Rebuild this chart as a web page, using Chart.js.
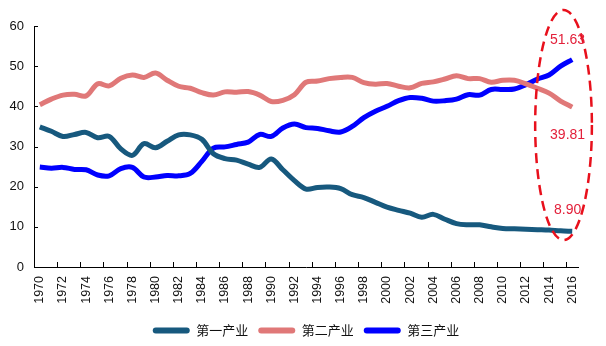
<!DOCTYPE html>
<html>
<head>
<meta charset="utf-8">
<script src="https://cdn.jsdelivr.net/npm/chart.js@4.4.1/dist/chart.umd.min.js"></script>
<style>
  html, body { margin: 0; padding: 0; background: #fff; }
</style>
</head>
<body>
<canvas id="industryChart" width="606" height="346"></canvas>
<script>
const years = [
  '1970', '1971', '1972', '1973', '1974', '1975', '1976', '1977', '1978', '1979',
  '1980', '1981', '1982', '1983', '1984', '1985', '1986', '1987', '1988', '1989',
  '1990', '1991', '1992', '1993', '1994', '1995', '1996', '1997', '1998', '1999',
  '2000', '2001', '2002', '2003', '2004', '2005', '2006', '2007', '2008', '2009',
  '2010', '2011', '2012', '2013', '2014', '2015', '2016'
];

// 第一产业
const primary = [
  34.9, 33.8, 32.5, 33.0, 33.5, 32.2, 32.5, 29.4, 27.8, 30.7,
  29.7, 31.3, 32.9, 32.9, 31.8, 28.2, 27.0, 26.6, 25.6, 24.8,
  26.9, 24.2, 21.5, 19.4, 19.8, 19.9, 19.5, 18.0, 17.3, 16.1,
  14.9, 14.1, 13.4, 12.4, 13.1, 11.9, 10.8, 10.5, 10.5, 10.0,
  9.6, 9.5, 9.4, 9.3, 9.2, 9.0, 8.90
];

// 第二产业
const secondary = [
  40.4, 41.8, 42.8, 43.0, 42.6, 45.6, 45.1, 47.0, 47.8, 47.2,
  48.3, 46.5, 45.0, 44.5, 43.4, 42.8, 43.6, 43.5, 43.7, 42.8,
  41.2, 41.5, 42.9, 46.0, 46.3, 46.9, 47.2, 47.2, 45.9, 45.5,
  45.7, 45.0, 44.6, 45.7, 46.1, 46.8, 47.6, 46.9, 46.9, 46.0,
  46.5, 46.5, 45.6, 44.5, 43.3, 41.3, 39.81
];

// 第三产业
const tertiary = [
  24.9, 24.6, 24.8, 24.3, 24.2, 22.9, 22.7, 24.5, 24.8, 22.4,
  22.4, 22.8, 22.7, 23.3, 26.3, 29.6, 29.9, 30.5, 31.1, 33.0,
  32.5, 34.6, 35.6, 34.7, 34.5, 33.9, 33.6, 35.0, 37.2, 38.8,
  40.0, 41.4, 42.2, 42.0, 41.3, 41.4, 41.8, 42.9, 42.8, 44.2,
  44.2, 44.3, 45.4, 46.8, 47.8, 50.0, 51.63
];

const seriesNames = ['第一产业', '第二产业', '第三产业'];
const seriesColors = ['#17597e', '#e07878', '#0000ff'];

// the dashed ring around the last years, in axis units
const ring = { fromIndex: 42.8, toIndex: 47.7, low: 6.7, high: 64.0 };
const ringLabelIndex = 45.6;
const ringLabelValues = [56.5, 32.8, 14.2];

const insideTicks = {
  id: 'insideTicks',
  beforeDatasetsDraw(chart) {
    const { ctx, chartArea, scales: { x, y } } = chart;
    ctx.save();
    ctx.strokeStyle = '#000';
    ctx.lineWidth = 1;
    ctx.beginPath();
    y.ticks.forEach(t => {
      const py = Math.round(y.getPixelForValue(t.value)) + 0.5;
      ctx.moveTo(chartArea.left, py);
      ctx.lineTo(chartArea.left + 4, py);
    });
    for (let i = 1; i < years.length; i += 2) {
      const px = Math.round(x.getPixelForValue(i + 0.5)) + 0.5;
      ctx.moveTo(px, chartArea.bottom);
      ctx.lineTo(px, chartArea.bottom - 5);
    }
    ctx.stroke();
    ctx.restore();
  }
};

// legend sits centred on the page, not on the plot
const legendShift = {
  id: 'legendShift',
  afterLayout(chart) {
    const lg = chart.legend;
    lg.left += 17; lg.right += 17;
    lg.top += 3; lg.bottom += 3;
  }
};

const ringNote = {
  id: 'ringNote',
  afterDatasetsDraw(chart) {
    const { ctx, scales: { x, y } } = chart;
    const x0 = x.getPixelForValue(ring.fromIndex);
    const x1 = x.getPixelForValue(ring.toIndex);
    const y0 = y.getPixelForValue(ring.high);
    const y1 = y.getPixelForValue(ring.low);
    ctx.save();
    ctx.strokeStyle = '#e8101c';
    ctx.lineWidth = 2.5;
    ctx.setLineDash([10, 6]);
    ctx.beginPath();
    ctx.ellipse((x0 + x1) / 2, (y0 + y1) / 2, (x1 - x0) / 2, (y1 - y0) / 2, 0, 0, Math.PI * 2);
    ctx.stroke();
    ctx.setLineDash([]);

    const last = years.length - 1;
    const texts = [tertiary[last], secondary[last], primary[last]].map(v => v.toFixed(2));
    ctx.fillStyle = '#e3203a';
    ctx.font = '14px "Liberation Sans Narrow", "Liberation Sans", Arial, sans-serif';
    ctx.textAlign = 'center';
    ctx.textBaseline = 'middle';
    const lx = x.getPixelForValue(ringLabelIndex);
    texts.forEach((t, i) => ctx.fillText(t, lx, y.getPixelForValue(ringLabelValues[i])));
    ctx.restore();
  }
};

const ctx = document.getElementById('industryChart').getContext('2d');
const chart = new Chart(ctx, {
  type: 'line',
  data: {
    labels: years,
    datasets: [primary, secondary, tertiary].map((d, i) => ({
      label: seriesNames[i],
      data: d,
      borderColor: seriesColors[i],
      backgroundColor: seriesColors[i],
      borderWidth: 5,
      pointRadius: 0,
      tension: 0.35,
      fill: false
    }))
  },
  options: {
    responsive: false,
    animation: false,
    layout: { padding: { top: 26, right: 28, bottom: 2, left: 0 } },
    scales: {
      x: {
        offset: true,
        grid: { display: false, drawTicks: false },
        border: { display: true, color: '#000', width: 1 },
        ticks: {
          autoSkip: false,
          minRotation: 90,
          maxRotation: 90,
          padding: 9,
          color: '#111',
          font: { family: '"Liberation Sans", Arial, sans-serif', size: 12.5 },
          callback: function(val, idx) { return idx % 2 === 0 ? this.getLabelForValue(val) : null; }
        },
        afterFit: s => { s.height = 44; }
      },
      y: {
        min: 0,
        max: 60,
        grid: { display: false, drawTicks: false },
        border: { display: true, color: '#000', width: 1 },
        ticks: {
          stepSize: 10,
          padding: 10,
          color: '#111',
          font: { family: '"Liberation Sans", Arial, sans-serif', size: 13 }
        },
        afterFit: s => { s.width = 34; }
      }
    },
    plugins: {
      tooltip: { enabled: false },
      legend: {
        position: 'bottom',
        labels: {
          boxWidth: 37,
          boxHeight: 6,
          padding: 10,
          color: '#111',
          font: { family: '"Noto Sans CJK SC", sans-serif', size: 13 },
          generateLabels: c => Chart.defaults.plugins.legend.labels.generateLabels(c)
            .map(l => ({ ...l, lineWidth: 0, borderRadius: 3 }))
        }
      }
    }
  },
  plugins: [insideTicks, legendShift, ringNote]
});
</script>
</body>
</html>
